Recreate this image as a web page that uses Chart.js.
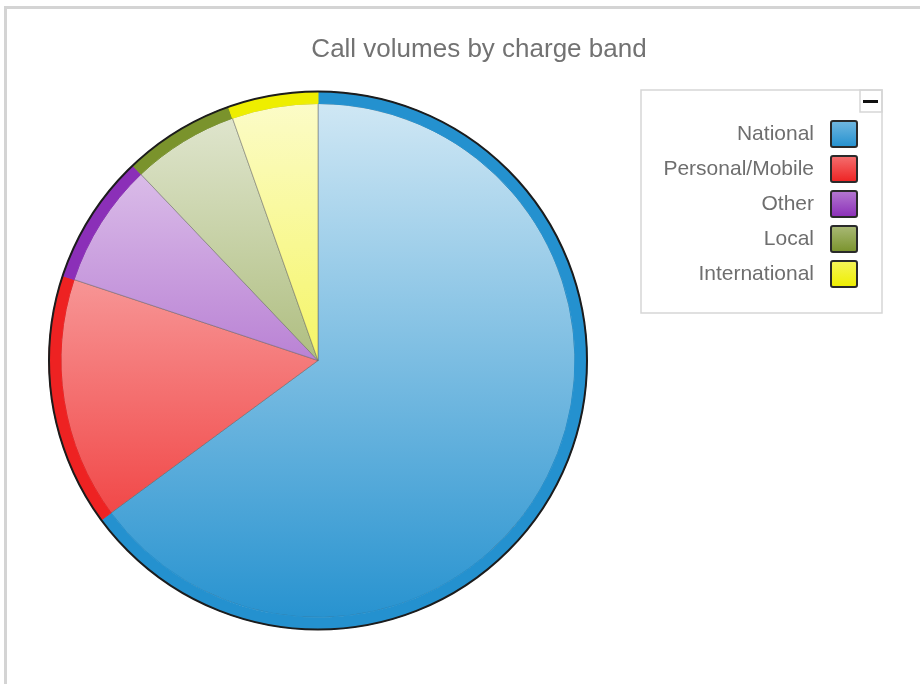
<!DOCTYPE html>
<html>
<head>
<meta charset="utf-8">
<script src="https://cdn.jsdelivr.net/npm/chart.js@4.4.1/dist/chart.umd.min.js"></script>
<style>
  html, body { margin: 0; padding: 0; background: #ffffff; overflow: hidden; width: 920px; height: 684px; }
  #frame { position: absolute; left: 4px; top: 6px; width: 1000px; height: 1000px;
           border-top: 3px solid #d4d4d4; border-left: 3px solid #d4d4d4; }
  #chart { position: absolute; left: 0; top: 0; }
</style>
</head>
<body>
<div id="frame"></div>
<canvas id="chart" width="920" height="684"></canvas>
<script>
// ---- data ----
const chartTitle = 'Call volumes by charge band';
const categories = ['National', 'Personal/Mobile', 'Other', 'Local', 'International'];
const callVolumes = [64.9, 15.2, 7.8, 6.7, 5.4];
const bandColors = ['#2491cf', '#ee2222', '#8b2fb8', '#7a932c', '#eeee00'];

// ---- styling helpers ----
const PIE_RADIUS = 269;
function mixWhite(hex, t) {
  const n = parseInt(hex.slice(1), 16);
  const r = (n >> 16) & 255, g = (n >> 8) & 255, b = n & 255;
  const f = c => Math.round(c + (255 - c) * t);
  return 'rgb(' + f(r) + ',' + f(g) + ',' + f(b) + ')';
}
function sliceGradient(ctx) {
  const chart = ctx.chart;
  const area = chart.chartArea;
  const base = bandColors[ctx.dataIndex % bandColors.length];
  if (!area) return base;
  const cy = (area.top + area.bottom) / 2;
  const g = chart.ctx.createLinearGradient(0, cy - PIE_RADIUS, 0, cy + PIE_RADIUS);
  g.addColorStop(0, mixWhite(base, 0.8));
  g.addColorStop(1, mixWhite(base, 0));
  return g;
}
function makeSwatch(hex) {
  const c = document.createElement('canvas');
  c.width = 28; c.height = 28;
  const x = c.getContext('2d');
  const g = x.createLinearGradient(0, 1, 0, 27);
  g.addColorStop(0, mixWhite(hex, 0.35));
  g.addColorStop(1, hex);
  x.beginPath();
  if (x.roundRect) x.roundRect(1, 1, 26, 26, 2); else x.rect(1, 1, 26, 26);
  x.fillStyle = g; x.fill();
  x.lineWidth = 2; x.strokeStyle = '#2a2a2a'; x.stroke();
  return c;
}
const swatches = bandColors.map(makeSwatch);

// ---- plugins ----
const legendWidthPlugin = {
  id: 'legendWidth',
  afterInit(chart) {
    const lg = chart.legend;
    if (!lg || lg._fixedWidth) return;
    const fit = lg.fit.bind(lg);
    lg.fit = function () { fit(); this.width = 322; };
    lg._fixedWidth = true;
  }
};
const rimOutlinePlugin = {
  id: 'rimOutline',
  afterDatasetsDraw(chart) {
    const arc = chart.getDatasetMeta(0).data[0];
    if (!arc) return;
    const p = arc.getProps(['x', 'y', 'outerRadius'], true);
    const ctx = chart.ctx;
    ctx.save();
    ctx.beginPath();
    ctx.arc(p.x, p.y, p.outerRadius, 0, Math.PI * 2);
    ctx.lineWidth = 2;
    ctx.strokeStyle = '#1c1c1c';
    ctx.stroke();
    ctx.restore();
  }
};
const legendFramePlugin = {
  id: 'legendFrame',
  afterDraw(chart) {
    const lg = chart.legend;
    if (!lg) return;
    const ctx = chart.ctx;
    const x1 = lg.right + 4.5, x0 = x1 - 241, y0 = lg.top - 19.5, y1 = y0 + 223;
    ctx.save();
    ctx.strokeStyle = '#d6d6d6';
    ctx.lineWidth = 1.5;
    ctx.strokeRect(x0, y0, x1 - x0, y1 - y0);
    ctx.strokeRect(x1 - 22, y0, 22, 22);
    ctx.fillStyle = '#111111';
    ctx.fillRect(x1 - 19, y0 + 10, 15, 3);
    ctx.restore();
  }
};

Chart.defaults.font.family = "'Liberation Sans', Arial, sans-serif";

new Chart(document.getElementById('chart'), {
  type: 'pie',
  data: {
    labels: categories,
    datasets: [
      {
        label: 'Rim',
        data: callVolumes,
        backgroundColor: bandColors,
        borderColor: bandColors,
        borderWidth: 1,
        weight: 12,
        clip: false
      },
      {
        label: 'Call volumes',
        data: callVolumes,
        backgroundColor: sliceGradient,
        borderColor: 'rgba(90,90,90,0.45)',
        borderWidth: 1,
        weight: 257,
        clip: false
      }
    ]
  },
  options: {
    responsive: false,
    animation: false,
    radius: PIE_RADIUS,
    layout: { padding: { left: 80.5, right: 42.5, top: 0, bottom: 72.5 } },
    plugins: {
      title: {
        display: true,
        text: chartTitle,
        color: '#727272',
        font: { size: 26, weight: 'normal' },
        padding: { top: 34.4, bottom: 43.9 }
      },
      legend: {
        display: true,
        position: 'right',
        fullSize: false,
        align: 'start',
        rtl: true,
        labels: {
          usePointStyle: true,
          pointStyleWidth: 39,
          padding: 14,
          color: '#6e6e6e',
          font: { size: 21 },
          generateLabels: (chart) => categories.map((t, i) => ({
            text: t,
            pointStyle: swatches[i],
            fillStyle: bandColors[i],
            strokeStyle: '#2a2a2a',
            lineWidth: 0,
            fontColor: '#6e6e6e',
            hidden: !chart.getDataVisibility(i),
            index: i
          }))
        }
      },
      tooltip: { enabled: true }
    }
  },
  plugins: [legendWidthPlugin, rimOutlinePlugin, legendFramePlugin]
});
</script>
</body>
</html>
